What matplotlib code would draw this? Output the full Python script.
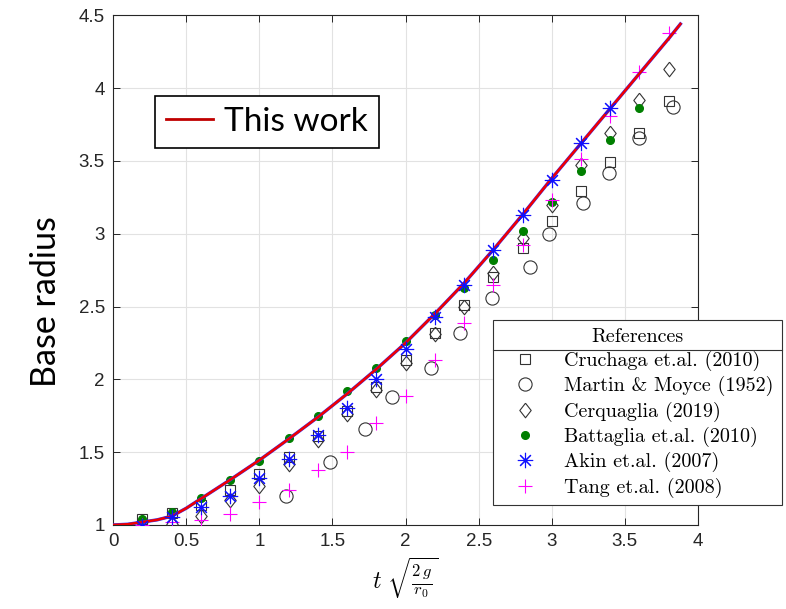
import matplotlib
matplotlib.use("Agg")
import matplotlib.pyplot as plt
from matplotlib.lines import Line2D

plt.rcParams['mathtext.fontset'] = 'cm'

# "This work" curve
curve_x = [0, 0.1, 0.2, 0.3, 0.4, 0.5, 0.6, 0.8, 1.0, 1.2, 1.4, 1.6, 1.8, 2.0,
           2.2, 2.4, 2.6, 2.8, 3.0, 3.2, 3.4, 3.6, 3.8, 3.88]
curve_y = [1.0, 1.005, 1.02, 1.035, 1.06, 1.115, 1.18, 1.31, 1.445, 1.59, 1.74,
           1.90, 2.07, 2.25, 2.45, 2.66, 2.89, 3.13, 3.38, 3.62, 3.86, 4.10, 4.34, 4.44]

# reference data sets
x_std = [0.2, 0.4, 0.6, 0.8, 1.0, 1.2, 1.4, 1.6, 1.8, 2.0, 2.2, 2.4, 2.6, 2.8,
         3.0, 3.2, 3.4, 3.6, 3.8]

cruchaga_y = [1.04, 1.08, 1.14, 1.24, 1.35, 1.47, 1.61, 1.78, 1.95, 2.13, 2.32,
              2.51, 2.70, 2.90, 3.09, 3.29, 3.49, 3.69, 3.91]

martin_x = [1.18, 1.485, 1.72, 1.905, 2.175, 2.37, 2.59, 2.85, 2.98, 3.215,
            3.39, 3.60, 3.83]
martin_y = [1.20, 1.43, 1.66, 1.88, 2.08, 2.32, 2.56, 2.77, 3.00, 3.21, 3.42,
            3.66, 3.87]

cerquaglia_y = [1.02, 1.01, 1.06, 1.17, 1.27, 1.42, 1.58, 1.76, 1.93, 2.11, 2.31,
                2.50, 2.73, 2.97, 3.20, 3.47, 3.69, 3.92, 4.13]

battaglia_x = [0.2, 0.4, 0.6, 0.8, 1.0, 1.2, 1.4, 1.6, 1.8, 2.0, 2.2, 2.4, 2.6,
               2.8, 3.0, 3.2, 3.4, 3.6]
battaglia_y = [1.04, 1.09, 1.185, 1.31, 1.44, 1.60, 1.75, 1.92, 2.075, 2.26, 2.44,
               2.63, 2.82, 3.02, 3.22, 3.43, 3.64, 3.86]

akin_x = [0.2, 0.4, 0.6, 0.8, 1.0, 1.2, 1.4, 1.6, 1.8, 2.0, 2.2, 2.4, 2.6, 2.8,
          3.0, 3.2, 3.4]
akin_y = [0.99, 1.055, 1.12, 1.20, 1.32, 1.45, 1.62, 1.80, 2.00, 2.205, 2.43,
          2.65, 2.89, 3.13, 3.37, 3.62, 3.86]

tang_y = [1.00, 1.02, 1.035, 1.075, 1.155, 1.24, 1.38, 1.50, 1.70, 1.885, 2.13,
          2.39, 2.65, 2.92, 3.23, 3.51, 3.81, 4.11, 4.38]

fig = plt.figure(figsize=(7.86, 6.09), dpi=100)
ax = fig.add_axes([0.144, 0.138, 0.744, 0.837])

ax.plot(curve_x, curve_y, color='#3030ff', lw=2.4, zorder=4)
ax.plot(curve_x, curve_y, color='#f00000', lw=1.8, zorder=5)

# MATLAB-like diamond, a bit taller than wide
diamond = [(0, 1), (0.78, 0), (0, -1), (-0.78, 0), (0, 1)]

cm_font = {'family': 'cmr10', 'size': 14.5}
h1, = ax.plot(x_std, cruchaga_y, ls='none', marker='s', ms=7.5, mfc='none',
              mec='#333333', mew=0.8, label='Cruchaga et.al. (2010)', zorder=3)
h2, = ax.plot(martin_x, martin_y, ls='none', marker='o', ms=9.5, mfc='none',
              mec='#333333', mew=0.8, label='Martin & Moyce (1952)', zorder=3)
h3, = ax.plot(x_std, cerquaglia_y, ls='none', marker=diamond, ms=10.5, mfc='none',
              mec='#333333', mew=0.8, label='Cerquaglia (2019)', zorder=3)
h4, = ax.plot(battaglia_x, battaglia_y, ls='none', marker='o', ms=5.5,
              mfc='#007f00', mec='#007f00', label='Battaglia et.al. (2010)', zorder=3)
h5, = ax.plot(akin_x, akin_y, ls='none', marker=(8, 2, 0), ms=11, mec='#1010ff',
              mew=0.8, label='Akin et.al. (2007)', zorder=6)
h6, = ax.plot(x_std, tang_y, ls='none', marker='+', ms=10, mec='#ff00ff',
              mew=0.8, label='Tang et.al. (2008)', zorder=3)

ax.set_xlim(0, 4)
ax.set_ylim(1, 4.5)
ax.set_xticks([0, 0.5, 1, 1.5, 2, 2.5, 3, 3.5, 4])
ax.set_xticklabels(['0', '0.5', '1', '1.5', '2', '2.5', '3', '3.5', '4'])
ax.set_yticks([1, 1.5, 2, 2.5, 3, 3.5, 4, 4.5])
ax.set_yticklabels(['1', '1.5', '2', '2.5', '3', '3.5', '4', '4.5'])
for lab in ax.get_xticklabels() + ax.get_yticklabels():
    lab.set_family('Liberation Sans')
ax.grid(True, color='#e2e2e2', lw=0.8)
ax.set_axisbelow(True)
ax.tick_params(direction='in', top=True, right=True, length=5, width=0.7,
               colors='#262626', labelsize=13.5, pad=6)
for s in ax.spines.values():
    s.set_color('#262626')
    s.set_linewidth(0.8)

ax.set_ylabel('Base radius', family='Lato', fontsize=24.5)
ax.yaxis.set_label_coords(-0.088, 0.438)
ax.set_xlabel(r'$t\ \sqrt{\frac{2\,g}{r_0}}$', fontsize=17, labelpad=4)

# first legend: "This work"
proxy = Line2D([0], [0], color='#c00000', lw=2)
leg1 = ax.legend([proxy], ['This work'], loc='upper left',
                 bbox_to_anchor=(0.072, 0.841), borderaxespad=0,
                 prop={'family': 'Lato', 'size': 24}, handlelength=1.4,
                 handletextpad=0.35, borderpad=0.32, fancybox=False,
                 framealpha=1, edgecolor='black')
leg1.get_frame().set_linewidth(1.2)
ax.add_artist(leg1)

# second legend: references
leg2 = ax.legend([h1, h2, h3, h4, h5, h6],
                 [h.get_label() for h in [h1, h2, h3, h4, h5, h6]],
                 title='References', title_fontproperties=cm_font,
                 loc='upper left', bbox_to_anchor=(0.65, 0.402), borderaxespad=0,
                 prop=cm_font, handlelength=2.4, handletextpad=0.75,
                 labelspacing=0.26, borderpad=0.38, fancybox=False,
                 framealpha=1, edgecolor='#333333')
leg2.get_frame().set_linewidth(0.8)

# line under the legend title
fig.canvas.draw()
r = fig.canvas.get_renderer()
fb = leg2.get_frame().get_window_extent(r)
tb = leg2.get_title().get_window_extent(r)
W, H = fig.bbox.width, fig.bbox.height
yline = (tb.y0 - 4) / H
fig.add_artist(Line2D([fb.x0 / W, fb.x1 / W], [yline, yline],
                      transform=fig.transFigure, color='#333333', lw=0.8))

plt.savefig('out.png', dpi=100)
